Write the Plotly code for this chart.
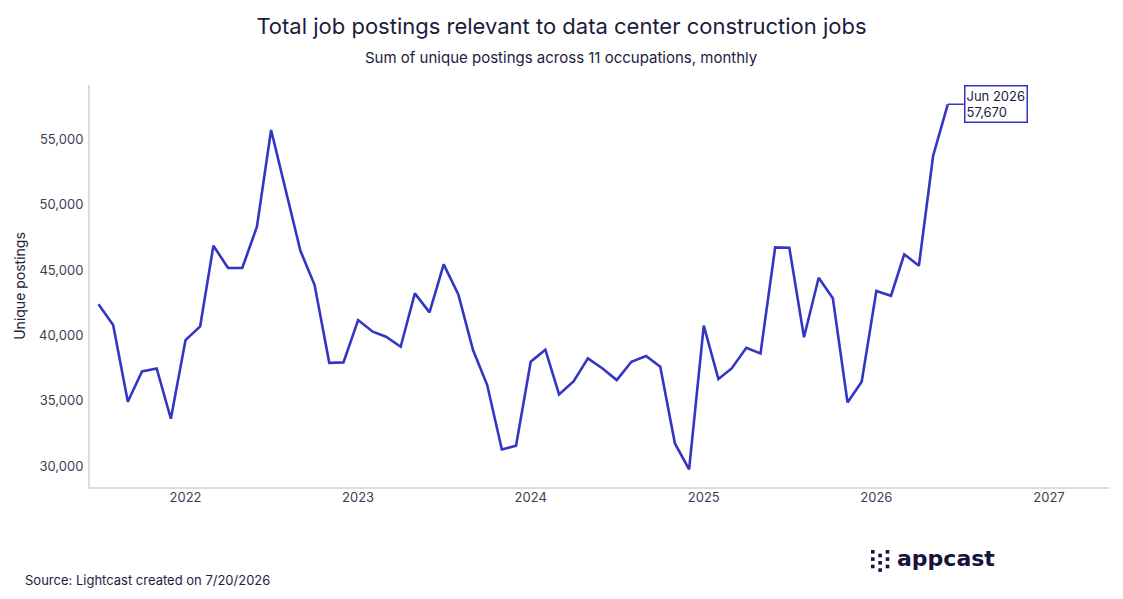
import plotly.graph_objects as go
import pandas as pd

# monthly data, Jul 2021 - Jun 2026
months = pd.date_range("2021-07-01", "2026-06-01", freq="MS")
postings = [
    42370, 40790, 34920, 37240, 37470, 33620,   # 2021 H2
    39640, 40690, 46860, 45150, 45150, 48310,   # 2022
    55710, 51040, 46470, 43850, 37900, 37930,
    41170, 40280, 39900, 39130, 43210, 41760,   # 2023
    45430, 43130, 38880, 36200, 31270, 31560,
    37980, 38900, 35480, 36500, 38240, 37470,   # 2024
    36580, 37980, 38420, 37600, 31730, 29750,
    40740, 36660, 37470, 39050, 38620, 46730,   # 2025
    46700, 39850, 44410, 42830, 34870, 36450,
    43390, 43030, 46200, 45330, 53720, 57670,   # 2026
]
y_ticks = [30000, 35000, 40000, 45000, 50000, 55000]

line_color = "#3336c2"
ink = "#1c1c3c"
label_col = "#3d3d55"
FONT = "Inter"

# plot area in pixels (for placing extras)
W, H = 1123, 599
L, R, T, B = 90, 14, 85, 112
pw, ph = W - L - R, H - T - B


def px(x, y):
    return (x - L) / pw, (H - B - y) / ph


fig = go.Figure()
fig.add_trace(go.Scatter(
    x=months, y=postings, mode="lines",
    line=dict(color=line_color, width=2.6),
    hovertemplate="%{x|%b %Y}<br>%{y:,}<extra></extra>",
))

annots = []
sx, sy = px(561, 58)
annots.append(dict(text="Sum of unique postings across 11 occupations, monthly",
                   xref="paper", yref="paper", x=sx, y=sy, showarrow=False,
                   xanchor="center", yanchor="middle",
                   font=dict(size=15, color=ink, family=FONT)))
sx, sy = px(23, 580)
annots.append(dict(text="Source: Lightcast created on 7/20/2026",
                   xref="paper", yref="paper", x=sx, y=sy, xanchor="left",
                   yanchor="middle", showarrow=False,
                   font=dict(size=13, color=ink, family=FONT)))
sx, sy = px(895, 558)
annots.append(dict(text="<b>appcast</b>", xref="paper", yref="paper",
                   x=sx, y=sy, xanchor="left", yanchor="middle",
                   showarrow=False,
                   font=dict(size=22, color="#14143a", family="DejaVu Sans")))
# last point callout
annots.append(dict(x=months[-1], y=postings[-1],
                   text=f"{months[-1]:%b %Y}<br>{postings[-1]:,}",
                   showarrow=True, arrowhead=0, arrowwidth=1.5,
                   arrowcolor=line_color, ax=16, ay=0, xanchor="left",
                   align="left", bordercolor=line_color, borderwidth=1.5,
                   borderpad=1, bgcolor="white",
                   font=dict(size=13, color=ink, family=FONT)))

# dot-grid logo icon
shapes = []
icon = [(871, 550), (871, 557.3), (871, 564.7),
        (878.3, 553.7), (878.3, 561), (878.3, 568.3),
        (885.7, 550), (885.7, 557.3), (885.7, 564.7)]
for x0, y0 in icon:
    a, b = px(x0, y0)
    a2, b2 = px(x0 + 3.6, y0 + 3.6)
    shapes.append(dict(type="rect", xref="paper", yref="paper",
                       x0=a, x1=a2, y0=b2, y1=b,
                       fillcolor="#14143a", line_width=0))

fig.update_layout(
    width=W, height=H,
    margin=dict(l=L, r=R, t=T, b=B),
    paper_bgcolor="white", plot_bgcolor="white",
    showlegend=False,
    font=dict(family=FONT, color=label_col, size=13),
    title=dict(text="Total job postings relevant to data center construction jobs",
               x=0.5, xanchor="center", y=1 - 26 / H, yanchor="middle",
               font=dict(size=22, color=ink, family=FONT)),
    annotations=annots,
    shapes=shapes,
    xaxis=dict(range=["2021-06-13", "2027-05-08"], tickformat="%Y",
               dtick="M12", tick0="2022-01-01", showgrid=False,
               showline=True, linecolor="#dcdcdc", linewidth=2,
               ticks="", ticklabelstandoff=-3, zeroline=False,
               tickfont=dict(size=13, color=label_col)),
    yaxis=dict(range=[28400, 59150], tickvals=y_ticks, tickformat=",",
               showgrid=False, showline=True, linecolor="#dcdcdc",
               linewidth=2, ticks="", zeroline=False, ticklabelstandoff=2,
               title=dict(text="Unique postings", standoff=10,
                          font=dict(size=14, color=ink)),
               tickfont=dict(size=13, color=label_col)),
)

fig.write_html("out.html", config={"displayModeBar": False},
               post_script="document.body.style.margin='0';")
